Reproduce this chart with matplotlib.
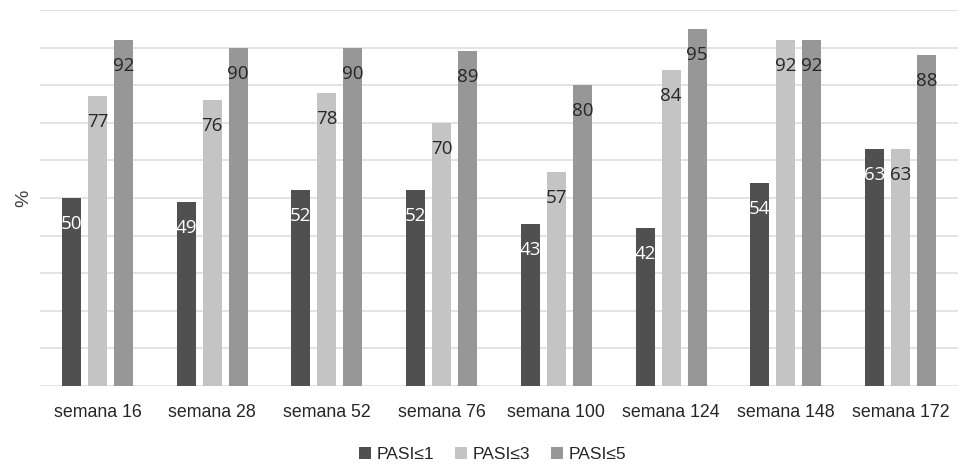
import matplotlib
matplotlib.use("Agg")
import matplotlib.pyplot as plt
import numpy as np

categories = ["semana 16", "semana 28", "semana 52", "semana 76",
              "semana 100", "semana 124", "semana 148", "semana 172"]
pasi1 = [50, 49, 52, 52, 43, 42, 54, 63]
pasi3 = [77, 76, 78, 70, 57, 84, 92, 63]
pasi5 = [92, 90, 90, 89, 80, 95, 92, 88]
series_names = ["PASI≤1", "PASI≤3", "PASI≤5"]

colors = ["#505050", "#c4c4c4", "#979797"]
text_colors = ["white", "#262626", "#262626"]

plt.rcParams['font.family'] = ['Liberation Sans', 'DejaVu Sans']

fig = plt.figure(figsize=(9.68, 4.70), dpi=100)
ax = fig.add_axes([40/968, 1-386/470, 918/968, 376/470])

x = np.arange(len(categories))
width = 0.165
offsets = [-0.227, 0.0, 0.227]
for vals, off, c, tc, name in zip([pasi1, pasi3, pasi5], offsets, colors, text_colors, series_names):
    bars = ax.bar(x + off, vals, width=width, color=c, label=name, zorder=3)
    for b, v in zip(bars, vals):
        ax.annotate(str(v), (b.get_x() + b.get_width()/2, v), xytext=(0, -26),
                    textcoords='offset pixels', ha='center', va='center',
                    fontsize=13.5, color=tc, family=['Open Sans', 'DejaVu Sans'], zorder=4)

ax.set_xlim(-0.5, len(categories) - 0.5)
ax.set_ylim(0, 100)
ax.set_yticks(np.arange(0, 101, 10))
ax.set_yticklabels([])
ax.yaxis.grid(True, color="#dedede", linewidth=1.2, zorder=0)
ax.tick_params(axis='both', length=0)
ax.set_xticks(x)
ax.set_xticklabels(categories, fontsize=12.8, color="#262626")
ax.tick_params(axis='x', pad=13)
for s in ax.spines.values():
    s.set_visible(False)
ax.set_ylabel("%", fontsize=14, color="#404040", labelpad=2)

ax.legend(loc='upper center', bbox_to_anchor=(0.493, -0.12), ncol=3, frameon=False,
          fontsize=12.5, handlelength=0.7, handleheight=0.7, handletextpad=0.3,
          columnspacing=1.2, labelcolor="#262626")

fig.savefig("out.png", dpi=100)
